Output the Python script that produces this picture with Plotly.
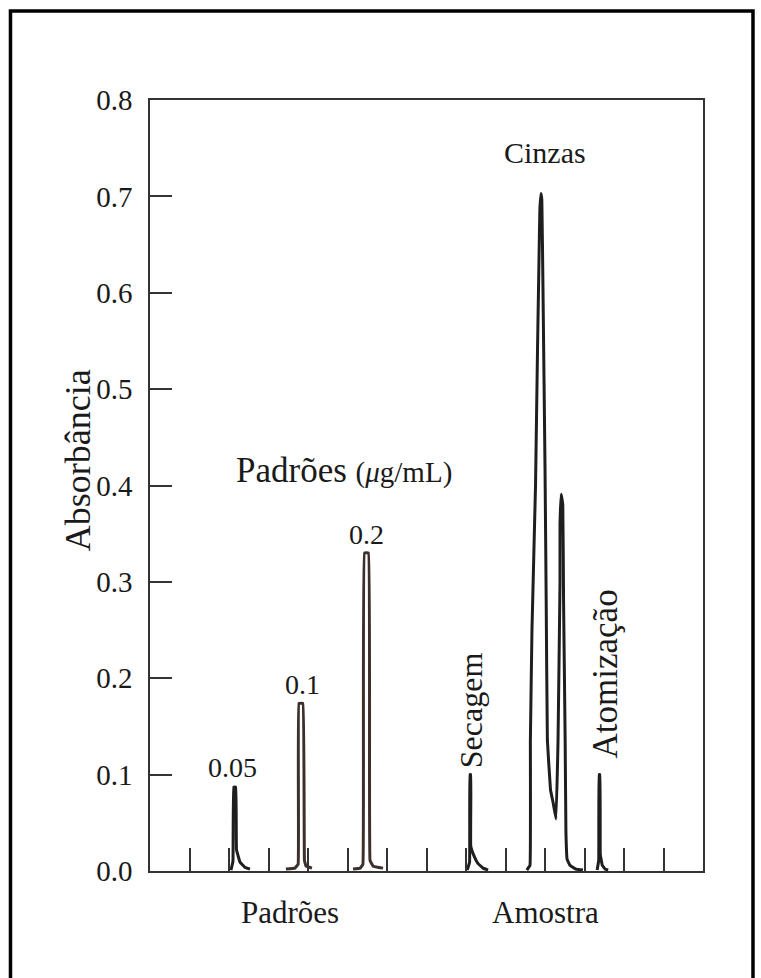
import plotly.graph_objects as go

# ---- data (x in time units 0-14, y in absorbance) ----
std005_x = [2.05, 2.10, 2.12, 2.17, 2.19, 2.28, 2.40, 2.53]
std005_y = [0.001, 0.010, 0.087, 0.087, 0.022, 0.009, 0.004, 0.002]

std01_x = [3.44, 3.67, 3.75, 3.77, 3.87, 3.91, 3.95, 4.10]
std01_y = [0.002, 0.003, 0.007, 0.174, 0.174, 0.011, 0.005, 0.003]

std02_x = [5.14, 5.32, 5.39, 5.43, 5.53, 5.57, 5.65, 5.90]
std02_y = [0.002, 0.003, 0.007, 0.330, 0.330, 0.011, 0.005, 0.003]

sec_x = [8.03, 8.09, 8.10, 8.12, 8.12, 8.20, 8.30, 8.43, 8.56]
sec_y = [0.001, 0.009, 0.100, 0.100, 0.026, 0.016, 0.008, 0.003, 0.001]

cin_x = [9.54, 9.62, 9.63, 9.67, 9.76, 9.81, 9.85, 9.87, 9.90, 9.92, 9.95,
         10.00, 10.03, 10.06, 10.14, 10.21, 10.28, 10.33, 10.38, 10.38, 10.41,
         10.45, 10.47, 10.51, 10.53, 10.56, 10.63, 10.78, 10.96]
cin_y = [0.001, 0.006, 0.136, 0.250, 0.400, 0.540, 0.640, 0.686, 0.703, 0.696, 0.600,
         0.420, 0.281, 0.136, 0.084, 0.070, 0.054, 0.136, 0.300, 0.360, 0.391,
         0.380, 0.280, 0.136, 0.040, 0.012, 0.006, 0.002, 0.001]

ato_x = [11.32, 11.36, 11.37, 11.39, 11.40, 11.45, 11.52, 11.60]
ato_y = [0.001, 0.011, 0.100, 0.100, 0.017, 0.006, 0.002, 0.001]

y_ticks = [0.0, 0.1, 0.2, 0.3, 0.4, 0.5, 0.6, 0.7, 0.8]
x_ticks = list(range(1, 14))

std_color = "#3d2f2c"
samp_color = "#1e1e1e"
txt_color = "#1a1a1a"
FONT = "Liberation Serif"

fig = go.Figure()
for xs, ys, c in [(std005_x, std005_y, samp_color), (std01_x, std01_y, std_color),
                  (std02_x, std02_y, std_color), (sec_x, sec_y, samp_color),
                  (cin_x, cin_y, samp_color), (ato_x, ato_y, samp_color)]:
    fig.add_trace(go.Scatter(x=xs, y=ys, mode="lines",
                             line=dict(color=c, width=3, shape="spline", smoothing=0.2),
                             showlegend=False, hoverinfo="skip"))

axis_common = dict(showgrid=False, zeroline=False, showline=True, linecolor="#333333",
                   linewidth=1.6, mirror=True, ticks="inside", tickcolor="#333333",
                   tickwidth=1.5)

fig.update_xaxes(range=[0, 14], tickvals=x_ticks, showticklabels=False, ticklen=23,
                 **axis_common)
fig.update_yaxes(range=[0, 0.8], tickvals=y_ticks, ticktext=[f"{v:.1f}" for v in y_ticks],
                 ticklen=22, ticklabelstandoff=10,
                 tickfont=dict(family=FONT, size=29, color=txt_color), **axis_common)

def ann(text, x, y, size=28, angle=0, xref="x", yref="y"):
    fig.add_annotation(text=text, x=x, y=y, xref=xref, yref=yref, showarrow=False,
                       textangle=angle, xanchor="center", yanchor="middle",
                       font=dict(family=FONT, size=size, color=txt_color))

ann("0.05", 2.08, 0.107)
ann("0.1", 3.85, 0.194)
ann("0.2", 5.49, 0.349)
ann("Padrões <span style='font-size:29px'>(<i>μ</i>g/mL)</span>", 4.90, 0.416, size=35)
ann("Cinzas", 10.0, 0.746, size=30)
ann("Secagem", 8.13, 0.167, size=32, angle=-90)
ann("Atomização", 11.52, 0.204, size=35, angle=-90)
ann("Padrões", 3.54, -0.0532, size=31, yref="paper")
ann("Amostra", 10.0, -0.0532, size=31, yref="paper")
ann("Absorbância", -0.130, 0.533, size=36, angle=-90, xref="paper", yref="paper")

# outer picture frame
fig.add_shape(type="rect", xref="paper", yref="paper",
              x0=-0.2523, x1=1.0904, y0=-0.145, y1=1.1154,
              line=dict(color="black", width=3.5), fillcolor="rgba(0,0,0,0)")

fig.update_layout(width=761, height=978, margin=dict(l=150, r=58, t=100, b=107),
                  paper_bgcolor="white", plot_bgcolor="white")

fig.write_html("out.html")
